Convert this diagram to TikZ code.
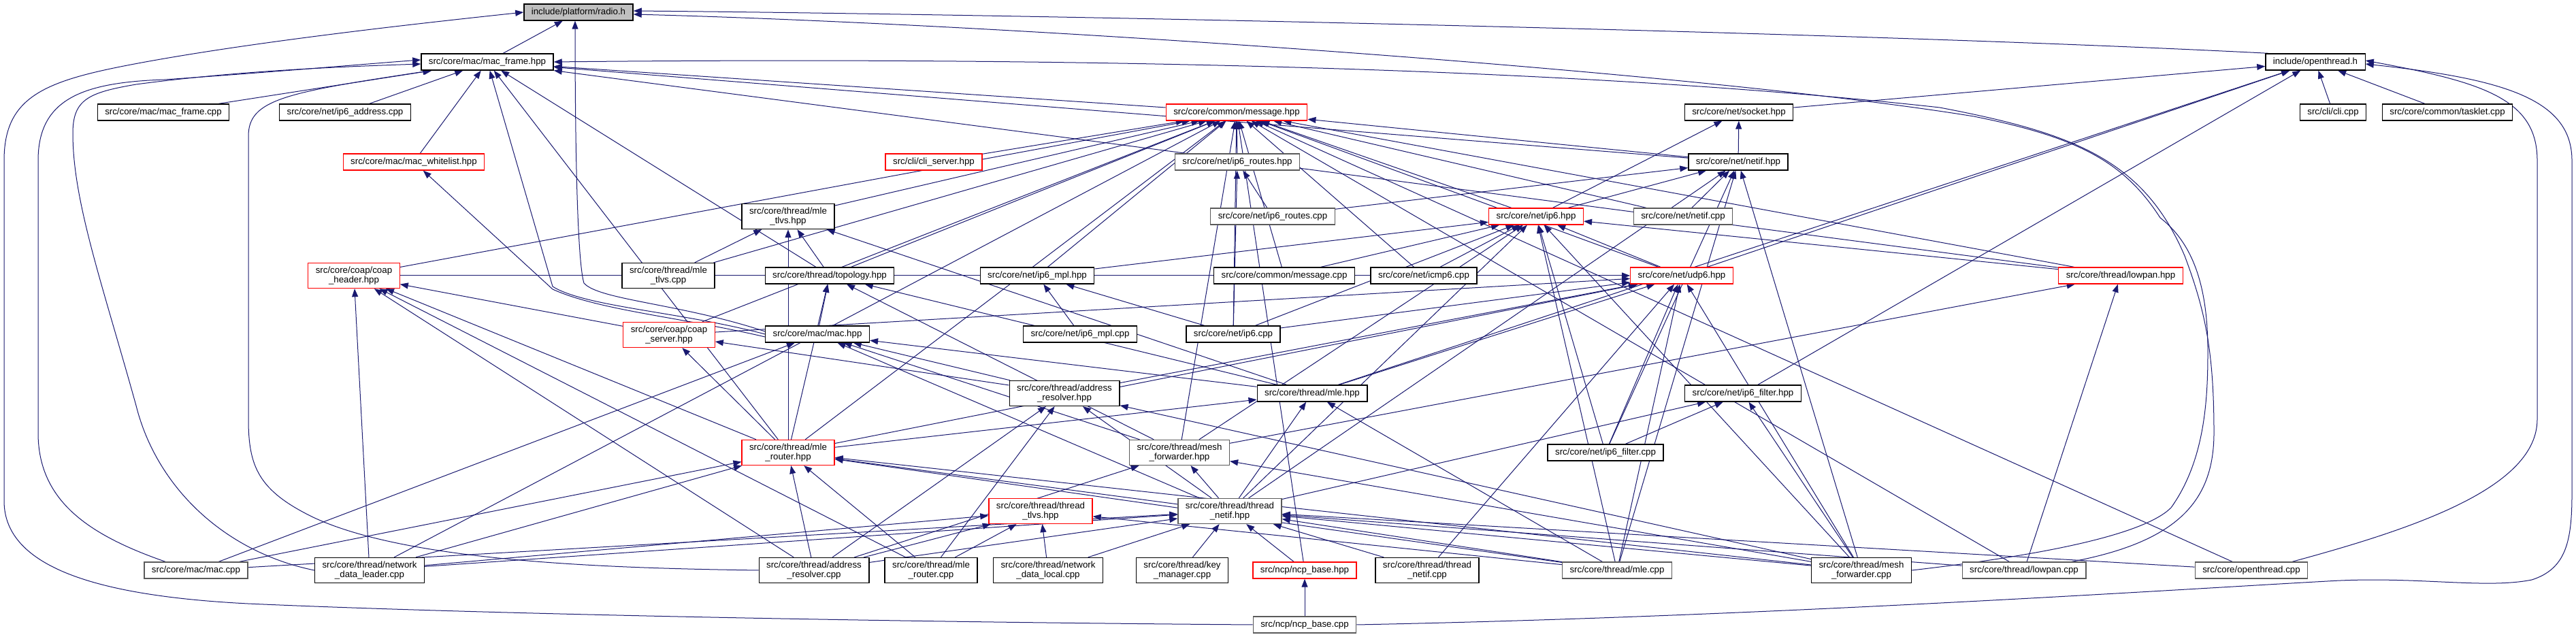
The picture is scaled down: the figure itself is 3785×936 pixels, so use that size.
\documentclass[tikz,border=0pt]{standalone}
\usepackage{fontspec}
\setmainfont{Liberation Sans}
\usetikzlibrary{arrows.meta,backgrounds,calc}
\definecolor{edgeblue}{HTML}{191970}
\definecolor{boxgray}{HTML}{5A5A5A}
\definecolor{fillgray}{HTML}{BFBFBF}
\newcommand\dxfont{\fontsize{13.3}{13.4}\selectfont}
\tikzset{
 box/.style={draw=black, line width=1.3pt, fill=white, font=\dxfont, inner xsep=11pt, inner ysep=2pt, minimum height=24pt, align=center},
 two/.style={minimum height=37pt},
 rb/.style={draw=red},
 gb/.style={draw=boxgray},
 dep/.style={draw=edgeblue, line width=1pt, -{Triangle[length=12pt,width=9pt]}},
}
\begin{document}
\begin{tikzpicture}[x=1pt,y=1pt]
\useasboundingbox (0,0) rectangle (3785,936);
% nodes
\node[box,fill=fillgray] (radio) at (850,918) {include/platform/radio.h};
\node[box] (macframeh) at (716,845) {src/core/mac/mac\_frame.hpp};
\node[box] (otpub) at (3402,845) {include/openthread.h};
\node[box] (macframecpp) at (240,771) {src/core/mac/mac\_frame.cpp};
\node[box] (ip6addrcpp) at (507,771) {src/core/net/ip6\_address.cpp};
\node[box,rb] (messageh) at (1817,771) {src/core/common/message.hpp};
\node[box] (socketh) at (2555,771) {src/core/net/socket.hpp};
\node[box] (clicpp) at (3428,771) {src/cli/cli.cpp};
\node[box] (taskletcpp) at (3596,771) {src/core/common/tasklet.cpp};
\node[box,rb] (whitelisth) at (608,698) {src/core/mac/mac\_whitelist.hpp};
\node[box,rb] (cliserverh) at (1372,698) {src/cli/cli\_server.hpp};
\node[box,gb] (ip6routesh) at (1818,698) {src/core/net/ip6\_routes.hpp};
\node[box] (netifh) at (2554,698) {src/core/net/netif.hpp};
\node[box,two] (mletlvsh) at (1158,618) {src/core/thread/mle\\\_tlvs.hpp};
\node[box,gb] (ip6routescpp) at (1870,618) {src/core/net/ip6\_routes.cpp};
\node[box,rb] (ip6h) at (2257,618) {src/core/net/ip6.hpp};
\node[box,gb] (netifcpp) at (2473,618) {src/core/net/netif.cpp};
\node[box,two,rb] (coapheaderh) at (520,531) {src/core/coap/coap\\\_header.hpp};
\node[box,two] (mletlvscpp) at (982,531) {src/core/thread/mle\\\_tlvs.cpp};
\node[box] (topologyh) at (1219,531) {src/core/thread/topology.hpp};
\node[box] (ip6mplh) at (1524,531) {src/core/net/ip6\_mpl.hpp};
\node[box] (messagecpp) at (1887,531) {src/core/common/message.cpp};
\node[box] (icmp6cpp) at (2092,531) {src/core/net/icmp6.cpp};
\node[box,rb] (udp6h) at (2471,531) {src/core/net/udp6.hpp};
\node[box,rb] (lowpanh) at (3116,531) {src/core/thread/lowpan.hpp};
\node[box,two,rb] (coapserverh) at (983,444) {src/core/coap/coap\\\_server.hpp};
\node[box] (mach) at (1201,445) {src/core/mac/mac.hpp};
\node[box] (ip6mplcpp) at (1587,445) {src/core/net/ip6\_mpl.cpp};
\node[box] (ip6cpp) at (1812,445) {src/core/net/ip6.cpp};
\node[box,two] (addrresh) at (1564,358) {src/core/thread/address\\\_resolver.hpp};
\node[box] (mleh) at (1928,358) {src/core/thread/mle.hpp};
\node[box] (ip6filterh) at (2561,358) {src/core/net/ip6\_filter.hpp};
\node[box,two,rb] (mlerouterh) at (1158,271) {src/core/thread/mle\\\_router.hpp};
\node[box,two,gb] (meshfwdh) at (1733,271) {src/core/thread/mesh\\\_forwarder.hpp};
\node[box] (ip6filtercpp) at (2359,271) {src/core/net/ip6\_filter.cpp};
\node[box,two,rb] (threadtlvsh) at (1529,185) {src/core/thread/thread\\\_tlvs.hpp};
\node[box,two,gb] (threadnetifh) at (1807,185) {src/core/thread/thread\\\_netif.hpp};
\node[box,gb] (maccpp) at (288,98) {src/core/mac/mac.cpp};
\node[box,two] (ndleadercpp) at (543,98) {src/core/thread/network\\\_data\_leader.cpp};
\node[box,two] (addrrescpp) at (1196,98) {src/core/thread/address\\\_resolver.cpp};
\node[box,two] (mlerouterpp) at (1368,98) {src/core/thread/mle\\\_router.cpp};
\node[box,two] (ndlocalcpp) at (1540,98) {src/core/thread/network\\\_data\_local.cpp};
\node[box,two] (keymgrcpp) at (1737,98) {src/core/thread/key\\\_manager.cpp};
\node[box,rb] (ncpbaseh) at (1917,98) {src/ncp/ncp\_base.hpp};
\node[box,two] (threadnetifcpp) at (2097,98) {src/core/thread/thread\\\_netif.cpp};
\node[box,gb] (mlecpp) at (2376,98) {src/core/thread/mle.cpp};
\node[box,two] (meshfwdcpp) at (2735,98) {src/core/thread/mesh\\\_forwarder.cpp};
\node[box,gb] (lowpancpp) at (2974,98) {src/core/thread/lowpan.cpp};
\node[box,gb] (otcpp) at (3308,98) {src/core/openthread.cpp};
\node[box,gb] (ncpbasecpp) at (1917,18) {src/ncp/ncp\_base.cpp};
% edges
\begin{scope}[on background layer]
\fill[white] (0,0) rectangle (3785,936);
\foreach \s/\t in {macframeh/radio, macframecpp/macframeh, ip6addrcpp/macframeh, whitelisth/macframeh,
 messageh/macframeh, topologyh/macframeh, mlerouterh/macframeh, netifh/macframeh, lowpanh/macframeh,
 socketh/otpub, udp6h/otpub, mleh/otpub, ip6filterh/otpub, clicpp/otpub, taskletcpp/otpub,
 cliserverh/messageh, ip6routesh/messageh, mletlvsh/messageh, netifh/messageh, ip6h/messageh,
 netifcpp/messageh, messagecpp/messageh, icmp6cpp/messageh, ip6mplh/messageh, ip6cpp/messageh,
 topologyh/messageh, coapheaderh/messageh, coapserverh/messageh, udp6h/messageh, lowpanh/messageh,
 ndleadercpp/messageh, mlerouterh/messageh, meshfwdh/messageh, ncpbaseh/messageh, otcpp/messageh,
 mletlvscpp/messageh, lowpancpp/messageh,
 ip6h/socketh, netifh/socketh,
 ip6routescpp/netifh, ip6h/netifh, netifcpp/netifh, threadnetifh/netifh, mlecpp/netifh,
 meshfwdcpp/netifh, ip6filtercpp/netifh,
 ip6cpp/ip6routesh, ip6routescpp/ip6routesh,
 mletlvscpp/mletlvsh, mlerouterh/mletlvsh, topologyh/mletlvsh, mleh/mletlvsh,
 udp6h/ip6h, lowpanh/ip6h, messagecpp/ip6h, icmp6cpp/ip6h, ip6mplh/ip6h, ip6cpp/ip6h, meshfwdh/ip6h,
 threadnetifh/ip6h, mlecpp/ip6h, meshfwdcpp/ip6h, ip6filtercpp/ip6h,
 coapheaderh/udp6h, coapserverh/udp6h, mleh/udp6h, addrresh/udp6h, ip6cpp/udp6h, ip6filtercpp/udp6h,
 threadnetifcpp/udp6h, mlecpp/udp6h, meshfwdcpp/udp6h, mlerouterh/udp6h,
 meshfwdh/lowpanh, lowpancpp/lowpanh,
 mach/topologyh, mlerouterh/topologyh, meshfwdh/topologyh, mleh/topologyh,
 ip6mplcpp/ip6mplh, ip6cpp/ip6mplh,
 coapserverh/coapheaderh, mlerouterh/coapheaderh, ndleadercpp/coapheaderh, addrrescpp/coapheaderh,
 mlerouterpp/coapheaderh,
 addrresh/coapserverh, mlerouterh/coapserverh,
 meshfwdh/mach, maccpp/mach, addrresh/mach, threadnetifh/mach, mleh/mach,
 addrrescpp/addrresh, threadnetifh/addrresh, mlerouterpp/addrresh, meshfwdcpp/addrresh,
 mlerouterh/mleh, threadnetifh/mleh, mlecpp/mleh,
 ip6filtercpp/ip6filterh, meshfwdcpp/ip6filterh, threadnetifh/ip6filterh,
 threadnetifh/mlerouterh, mlerouterpp/mlerouterh, addrrescpp/mlerouterh, ndleadercpp/mlerouterh,
 maccpp/mlerouterh, mlecpp/mlerouterh, meshfwdcpp/mlerouterh,
 threadnetifh/meshfwdh, meshfwdcpp/meshfwdh, addrrescpp/meshfwdh,
 ndleadercpp/threadtlvsh, addrrescpp/threadtlvsh, mlerouterpp/threadtlvsh, ndlocalcpp/threadtlvsh,
 mlecpp/threadtlvsh,
 maccpp/threadnetifh, ndleadercpp/threadnetifh, addrrescpp/threadnetifh, ndlocalcpp/threadnetifh,
 keymgrcpp/threadnetifh, ncpbaseh/threadnetifh, threadnetifcpp/threadnetifh, mlecpp/threadnetifh,
 meshfwdcpp/threadnetifh, otcpp/threadnetifh, lowpancpp/threadnetifh,
 ncpbasecpp/ncpbaseh}
 \draw[dep] (\s) -- (\t);
% routed edges
\draw[dep] ([xshift=5pt]otpub.north west) .. controls (2700,890) and (1500,915) .. ([yshift=2pt]radio.east);
\draw[dep] ([yshift=4pt]mach.west) .. controls (1000,490) and (880,495) .. (858,520) .. controls (846,560) and (845,800) .. ([xshift=-5pt]radio.south);
\draw[dep] (mach.west) .. controls (1000,478) and (860,485) .. (812,515) -- (macframeh);
\draw[dep] ([yshift=-4pt]mach.west) .. controls (1000,470) and (880,480) .. (812,511) -- (whitelisth);
\draw[dep] (ncpbasecpp.west) .. controls (1300,22) and (700,34) .. (364,49) .. controls (150,60) and (6,100) .. (6,200) -- (6,700) .. controls (6,790) and (60,815) .. (182,839) .. controls (350,872) and (600,900) .. (radio.west);
\draw[dep] (ncpbasecpp.east) .. controls (2600,30) and (3200,70) .. (3420,82) .. controls (3550,90) and (3650,70) .. (3720,84) .. controls (3770,100) and (3779,140) .. (3779,210) -- (3779,700) .. controls (3779,790) and (3680,820) .. ([yshift=-3pt]otpub.east);
\draw[dep] ([xshift=60pt]otcpp.north) .. controls (3550,160) and (3728,220) .. (3728,320) -- (3728,700) .. controls (3728,790) and (3650,815) .. ([yshift=2pt]otpub.east);
\draw[dep] (meshfwdcpp.east) .. controls (3000,120) and (3150,150) .. (3190,190) .. controls (3240,260) and (3244,350) .. (3244,420) .. controls (3244,520) and (3220,580) .. (3174,616) .. controls (3120,700) and (3050,735) .. (2900,765) .. controls (2500,830) and (1500,900) .. ([yshift=-3pt]radio.east);
\draw[dep] ([xshift=70pt]lowpancpp.north) .. controls (3200,140) and (3253,200) .. (3253,300) .. controls (3253,420) and (3240,480) .. (3210,560) .. controls (3150,700) and (3050,740) .. (2850,778) .. controls (2200,850) and (1300,850) .. (macframeh.east);
\draw[dep] ([xshift=-45pt]maccpp.north) .. controls (130,150) and (56,200) .. (56,300) -- (56,700) .. controls (56,790) and (120,815) .. (242,819) .. controls (400,830) and (550,843) .. ([yshift=3pt]macframeh.west);
\draw[dep] (ndleadercpp.west) .. controls (330,125) and (230,220) .. (200,340) .. controls (150,520) and (107,640) .. (107,740) .. controls (107,790) and (130,800) .. (200,812) .. controls (350,832) and (500,838) .. ([yshift=-3pt]macframeh.west);
\draw[dep] (addrrescpp.west) .. controls (900,101) and (600,110) .. (460,176) .. controls (380,215) and (365,250) .. (365,320) -- (365,736) .. controls (365,790) and (420,800) .. ([xshift=15pt]macframeh.south west);
\end{scope}
\end{tikzpicture}
\end{document}
